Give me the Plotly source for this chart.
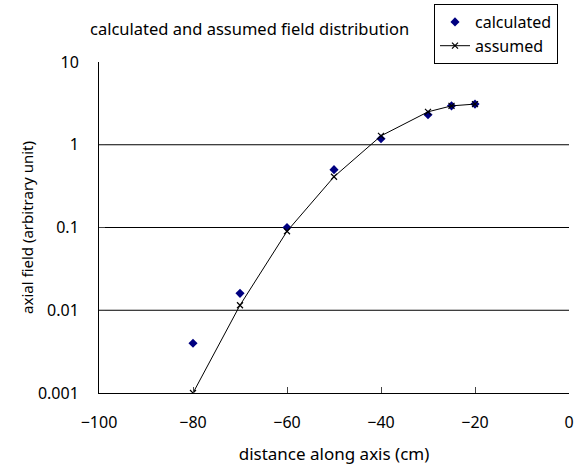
import plotly.graph_objects as go

x_calc = [-80, -70, -60, -50, -40, -30, -25, -20]
y_calc = [0.004, 0.016, 0.1, 0.5, 1.18, 2.3, 2.95, 3.1]
x_assumed = [-80, -70, -60, -50, -40, -30, -25, -20]
y_assumed = [0.001, 0.0115, 0.09, 0.41, 1.28, 2.5, 2.95, 3.1]
x_ticks = [-100, -80, -60, -40, -20, 0]
y_ticks = [0.001, 0.01, 0.1, 1, 10]
y_tick_labels = ["0.001", "0.01", "0.1", "1", "10"]

font = "Noto Sans, Liberation Sans, Arial, sans-serif"
W, H = 581, 465
L, R, T, B = 99, 12, 62, 72

fig = go.Figure()
fig.add_trace(go.Scatter(
    x=x_calc, y=y_calc, mode="markers", name="calculated",
    marker=dict(symbol="diamond", size=7, color="#000080"),
))
fig.add_trace(go.Scatter(
    x=x_assumed, y=y_assumed, mode="lines+markers", name="assumed",
    line=dict(color="black", width=1),
    marker=dict(symbol="x-thin", size=6, color="black", line=dict(color="black", width=1.2)),
))

# horizontal gridlines (interior decades only, as in the reference)
for v in y_ticks[1:-1]:
    fig.add_shape(type="line", xref="paper", x0=0, x1=1, yref="y", y0=v, y1=v,
                  line=dict(color="black", width=1), layer="below")

fig.update_layout(
    width=W, height=H,
    margin=dict(l=L, r=R, t=T, b=B, autoexpand=False),
    paper_bgcolor="white", plot_bgcolor="white",
    font=dict(family=font, size=16, color="black"),
    title=dict(text="calculated and assumed field distribution", x=90/W, xanchor="left",
               xref="container", y=1 - 29/H, yanchor="middle", yref="container",
               font=dict(size=16.5)),
    showlegend=True,
    legend=dict(x=(434 - L)/(W - L - R), xanchor="left", xref="paper",
                y=1 - 4/H, yanchor="top", yref="container",
                bordercolor="black", borderwidth=1, bgcolor="white",
                font=dict(size=16), tracegroupgap=0, itemwidth=30),
    xaxis=dict(range=[-100, 0], tickvals=x_ticks, ticks="inside", ticklen=6,
               showline=True, linecolor="black", linewidth=1, showgrid=False,
               zeroline=False, tickfont=dict(size=16), automargin=False,
               ticklabelstandoff=15,
               title=dict(text="distance along axis (cm)", font=dict(size=17), standoff=15)),
    yaxis=dict(type="log", range=[-3, 1], tickvals=y_ticks, ticktext=y_tick_labels,
               ticks="inside", ticklen=6, showline=True, linecolor="black", linewidth=1,
               showgrid=False, tickfont=dict(size=16), automargin=False,
               ticklabelstandoff=16,
               title=dict(text="axial field (arbitrary unit)", font=dict(size=15), standoff=0)),
)

fig.write_html("out.html", config={"displayModeBar": False},
               post_script="document.body.style.margin='0';")
